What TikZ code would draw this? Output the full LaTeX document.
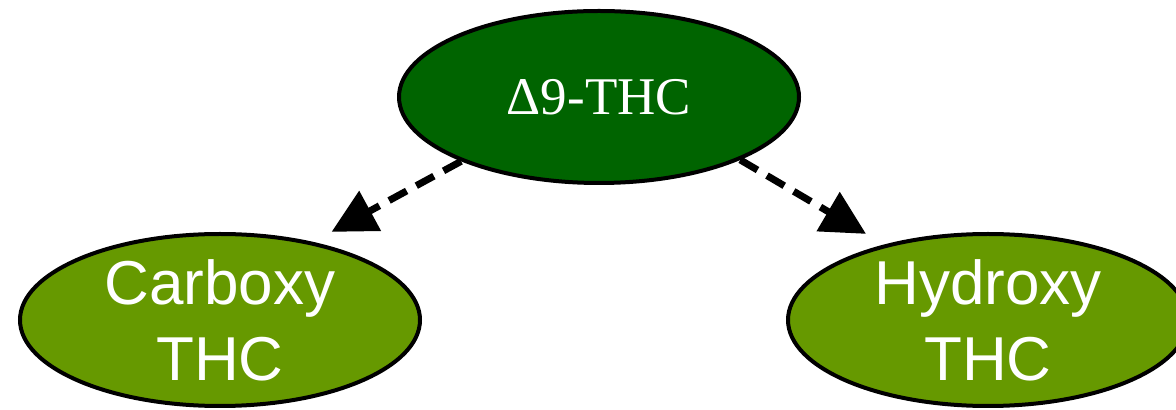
\documentclass[tikz,border=0pt]{standalone}
\usepackage{fontspec}
\usetikzlibrary{shapes.geometric,arrows.meta}
\setmainfont{Liberation Serif}
\newfontfamily\labelsans{Liberation Sans}

\definecolor{thcgreen}{RGB}{0,100,0}
\definecolor{metgreen}{RGB}{102,153,0}

\tikzset{
  blob/.style={ellipse,draw=black,line width=2pt,inner sep=0pt,
    minimum width=200pt,minimum height=86pt,text=white,align=center},
  parent/.style={blob,fill=thcgreen,font=\fontsize{26.5}{32}\selectfont},
  metabolite/.style={blob,fill=metgreen,font=\labelsans\fontsize{31}{38}\selectfont},
  flow/.style={line width=3.5pt,dash pattern=on 10pt off 5.5pt,
    -{Triangle[length=22pt,width=22pt]}}
}

\begin{document}
\begin{tikzpicture}[x=0.5pt,y=0.5pt,yscale=-1,xscale=1]
\useasboundingbox (0,0) rectangle (1176,410);

% Ellipse nodes
\node [parent] (thc) at (599,97) {Δ9-THC};
\node [metabolite] (carboxy) at (220,320) {Carboxy\\THC};
\node [metabolite] (hydroxy) at (988,320) {Hydroxy\\THC};

% Dashed arrows
\draw [flow,shorten >=10.5pt] (thc.205) -- (carboxy.40);
\draw [flow,shorten >=10.5pt] (thc.336) -- (hydroxy.144);

\end{tikzpicture}
\end{document}
